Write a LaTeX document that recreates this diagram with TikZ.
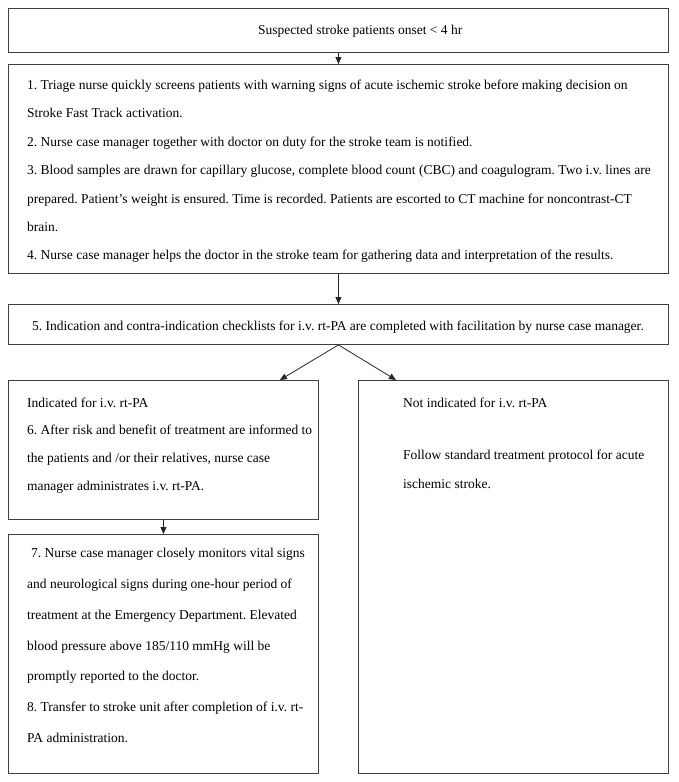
\documentclass[tikz,border=0pt]{standalone}
\usepackage{fontspec}
\setmainfont{Liberation Serif}
\usetikzlibrary{arrows.meta}
\begin{document}
\frenchspacing
\begin{tikzpicture}[x=1pt,y=-1pt,
  box/.style={draw=black!75,line width=0.9pt,rectangle,anchor=north west,inner sep=0pt},
  txt/.style={anchor=base west,inner sep=0pt,font=\fontsize{13.5}{14}\selectfont},
  link/.style={draw=black!85,line width=0.8pt,-{Triangle[length=7pt,width=6pt]}}]
\useasboundingbox (0,0) rectangle (678,782);
\fill[white] (0,0) rectangle (678,782);
% boxes
\node[box,minimum width=660pt,minimum height=44pt] (b1) at (8,8) {};
\node[box,minimum width=660pt,minimum height=209pt] (b2) at (8,64) {};
\node[box,minimum width=660pt,minimum height=40pt] (b3) at (8,304) {};
\node[box,minimum width=310pt,minimum height=139pt] (b4) at (8,380) {};
\node[box,minimum width=310pt,minimum height=393pt] (b5) at (358,380) {};
\node[box,minimum width=310pt,minimum height=239pt] (b6) at (8,534) {};
% texts
\node[txt] (t1) at (258,34) {Suspected stroke patients onset < 4 hr};
\node[txt] (t2a) at (27,89) {1. Triage nurse quickly screens patients with warning signs of acute ischemic stroke before making decision on};
\node[txt] (t2b) at (27,117) {Stroke Fast Track activation.};
\node[txt] (t2c) at (27,146) {2. Nurse case manager together with doctor on duty for the stroke team is notified.};
\node[txt] (t2d) at (27,174) {3. Blood samples are drawn for capillary glucose, complete blood count (CBC) and coagulogram. Two i.v. lines are};
\node[txt] (t2e) at (27,203) {prepared. Patient’s weight is ensured. Time is recorded. Patients are escorted to CT machine for noncontrast-CT};
\node[txt] (t2f) at (27,231) {brain.};
\node[txt] (t2g) at (27,259) {4. Nurse case manager helps the doctor in the stroke team for gathering data and interpretation of the results.};
\node[txt,anchor=base] (t3) at (338,330) {5. Indication and contra-indication checklists for i.v. rt-PA are completed with facilitation by nurse case manager.};
\node[txt] (t4a) at (27,407) {Indicated for i.v. rt-PA};
\node[txt] (t4b) at (27,434) {6. After risk and benefit of treatment are informed to};
\node[txt] (t4c) at (27,462) {the patients and /or their relatives, nurse case};
\node[txt] (t4d) at (27,490) {manager administrates i.v. rt-PA.};
\node[txt] (t5a) at (403,407) {Not indicated for i.v. rt-PA};
\node[txt] (t5b) at (403,459) {Follow standard treatment protocol for acute};
\node[txt] (t5c) at (403,488) {ischemic stroke.};
\node[txt] (t6a) at (31,557) {7. Nurse case manager closely monitors vital signs};
\node[txt] (t6b) at (27,588) {and neurological signs during one-hour period of};
\node[txt] (t6c) at (27,619) {treatment at the Emergency Department. Elevated};
\node[txt] (t6d) at (27,650) {blood pressure above 185/110 mmHg will be};
\node[txt] (t6e) at (27,680) {promptly reported to the doctor.};
\node[txt] (t6f) at (27,711) {8. Transfer to stroke unit after completion of i.v. rt-};
\node[txt] (t6g) at (27,742) {PA administration.};
% connectors
\draw[link] (b1.south) -- (b2.north);
\draw[link] (b2.south) -- (b3.north);
\coordinate (l4) at ([xshift=-39pt]b4.north east);
\coordinate (l5) at ([xshift=38pt]b5.north west);
\draw[link] (b3.south) -- (l4);
\draw[link] (b3.south) -- (l5);
\draw[link] (b4.south) -- (b6.north);
\end{tikzpicture}
\end{document}
